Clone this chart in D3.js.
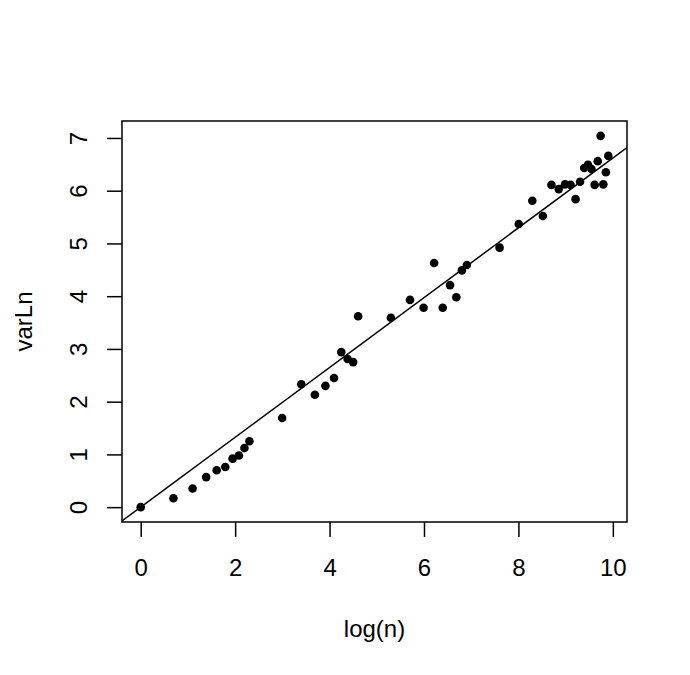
<!DOCTYPE html>
<html>
<head>
<meta charset="utf-8">
<script src="https://cdn.jsdelivr.net/npm/d3@7"></script>
<style>
body { margin: 0; background: #fff; }
text { font-family: "Liberation Sans", Arial, sans-serif; font-size: 24px; fill: #000; }
</style>
</head>
<body>
<div id="chart"></div>
<script>
// sample sizes (x axis is log(n))
var nValues = [1, 2, 3, 4, 5, 6, 7, 8, 9, 10,
	20, 30, 40, 50, 60, 70, 80, 90, 100,
	200, 300, 400, 500, 600, 700, 800, 900, 1000,
	2000, 3000, 4000, 5000, 6000, 7000, 8000, 9000, 10000,
	11000, 12000, 13000, 14000, 15000, 16000, 17000, 18000, 19000, 20000];

var varLn = [0, 0.17, 0.355, 0.57, 0.70, 0.76, 0.92, 0.98, 1.12, 1.25,
	1.69, 2.33, 2.13, 2.30, 2.45, 2.94, 2.81, 2.75, 3.62,
	3.59, 3.93, 3.78, 4.63, 3.78, 4.21, 3.98, 4.49, 4.59,
	4.92, 5.37, 5.81, 5.52, 6.11, 6.03, 6.12, 6.11, 5.84,
	6.17, 6.43, 6.49, 6.41, 6.11, 6.56, 7.04, 6.12, 6.35, 6.66];

var xTicks = [0, 2, 4, 6, 8, 10];
var yTicks = [0, 1, 2, 3, 4, 5, 6, 7];

// reference line y = a + b*x
var lineIntercept = 0, lineSlope = 0.662;

var plotData = nValues.map(function(n, i) {
	return { x: Math.log(n), y: varLn[i] };
});

var width = 690, height = 675;
var box = { left: 122, right: 627, top: 121, bottom: 522 };

// R style 4% padding on the data range
function padded(ext) {
	var d = (ext[1] - ext[0]) * 0.04;
	return [ext[0] - d, ext[1] + d];
}

var x = d3.scaleLinear()
	.domain(padded(d3.extent(plotData, function(d) { return d.x; })))
	.range([box.left, box.right]);
var y = d3.scaleLinear()
	.domain(padded(d3.extent(plotData, function(d) { return d.y; })))
	.range([box.bottom, box.top]);

var svg = d3.select("#chart").append("svg")
	.attr("width", width).attr("height", height);

svg.append("rect").attr("width", width).attr("height", height).attr("fill", "#fff");

svg.append("clipPath").attr("id", "clip").append("rect")
	.attr("x", box.left).attr("y", box.top)
	.attr("width", box.right - box.left).attr("height", box.bottom - box.top);

// points
svg.append("g").selectAll("circle").data(plotData).enter().append("circle")
	.attr("cx", function(d) { return x(d.x); })
	.attr("cy", function(d) { return y(d.y); })
	.attr("r", 4.3)
	.attr("fill", "#000");

// fitted line
var xd = x.domain();
svg.append("line")
	.attr("clip-path", "url(#clip)")
	.attr("x1", x(xd[0])).attr("y1", y(lineIntercept + lineSlope * xd[0]))
	.attr("x2", x(xd[1])).attr("y2", y(lineIntercept + lineSlope * xd[1]))
	.attr("stroke", "#000").attr("stroke-width", 1.5);

// axes
var xAxis = svg.append("g")
	.attr("transform", "translate(0," + box.bottom + ")")
	.call(d3.axisBottom(x).tickValues(xTicks).tickFormat(d3.format("d"))
		.tickSize(15).tickPadding(21.5));
xAxis.select(".domain").remove();
xAxis.selectAll("line").attr("stroke-width", 1.5);
xAxis.selectAll("text").attr("font-size", null).attr("font-family", null);

var yAxis = svg.append("g")
	.attr("transform", "translate(" + box.left + ",0)")
	.call(d3.axisLeft(y).tickValues(yTicks).tickFormat(d3.format("d")).tickSize(15));
yAxis.select(".domain").remove();
yAxis.selectAll("line").attr("stroke-width", 1.5);
yAxis.selectAll("text")
	.attr("x", null).attr("dy", null)
	.attr("text-anchor", "middle")
	.attr("transform", "translate(-35.3,0) rotate(-90)");
yAxis.attr("font-size", null).attr("font-family", null);
xAxis.attr("font-size", null).attr("font-family", null);

// plot box
svg.append("rect")
	.attr("x", box.left).attr("y", box.top)
	.attr("width", box.right - box.left).attr("height", box.bottom - box.top)
	.attr("fill", "none").attr("stroke", "#000").attr("stroke-width", 1.5);

// axis titles
svg.append("text")
	.attr("x", (box.left + box.right) / 2).attr("y", 637)
	.attr("text-anchor", "middle")
	.text("log(n)");

svg.append("text")
	.attr("transform", "translate(31.7," + (box.top + box.bottom) / 2 + ") rotate(-90)")
	.attr("text-anchor", "middle")
	.text("varLn");
</script>
</body>
</html>
